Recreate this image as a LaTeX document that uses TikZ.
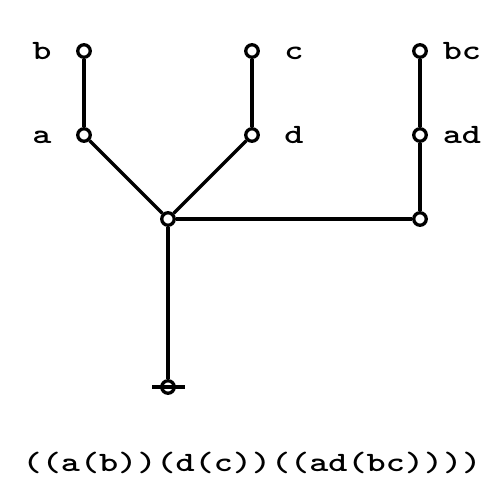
\documentclass[tikz,border=0pt]{standalone}
\usepackage{fontspec}
\newfontfamily\codefont{lmmonolt10-bold}[Extension=.otf]
\usetikzlibrary{positioning}
\tikzset{%
	vertex/.style   = {draw, circle, line width=3.3pt, fill=white, inner sep=0pt, minimum size=12.5pt}, % Node
	tag/.style      = {font=\codefont\fontsize{28}{34}\selectfont, inner sep=0pt, text height=18pt, text depth=0pt, xscale=1.3, transform shape}, % Name
	edge/.style     = {line width=3.3pt}, % Branch
	waypoint/.style = {coordinate},
}
\begin{document}
\begin{tikzpicture}[x=1pt,y=1pt,node distance=84pt]
	\useasboundingbox (0,0) rectangle (504,504);
	\node [vertex] (root) at (168,117) {};
	\node [vertex] (j) [above of=root,node distance=168pt] {};
	\node [vertex] (r) [right of=j,node distance=252pt] {};
	\node [vertex] (a) [above left of=j,node distance=118.8pt] {};
	\node [vertex] (d) [above right of=j,node distance=118.8pt] {};
	\node [vertex] (b) [above of=a] {};
	\node [vertex] (c) [above of=d] {};
	\node [vertex] (ad) [above of=r] {};
	\node [vertex] (bc) [above of=ad] {};
	\node [waypoint] (tl) [left of=root,node distance=16pt] {};
	\node [waypoint] (tr) [right of=root,node distance=17pt] {};
	
	% xscale of the tags also stretches the node distance: 42pt/1.3
	\node [tag] [left of=b,node distance=32.3pt] {b};
	\node [tag] [left of=a,node distance=32.3pt] {a};
	\node [tag] [right of=c,node distance=32.3pt] {c};
	\node [tag] [right of=d,node distance=32.3pt] {d};
	\node [tag] [right of=bc,node distance=32.3pt] {bc};
	\node [tag] [right of=ad,node distance=32.3pt] {ad};
	\node [tag] (expr) at (252,41) {((a(b))(d(c))((ad(bc))))};
	
	\draw[edge] (b) -- (a);
	\draw[edge] (c) -- (d);
	\draw[edge] (bc) -- (ad);
	\draw[edge] (ad) -- (r);
	\draw[edge] (a) -- (j);
	\draw[edge] (d) -- (j);
	\draw[edge] (j) -- (r);
	\draw[edge] (j) -- (root);
	\draw[edge] (tl) -- (tr);
\end{tikzpicture}
\end{document}
